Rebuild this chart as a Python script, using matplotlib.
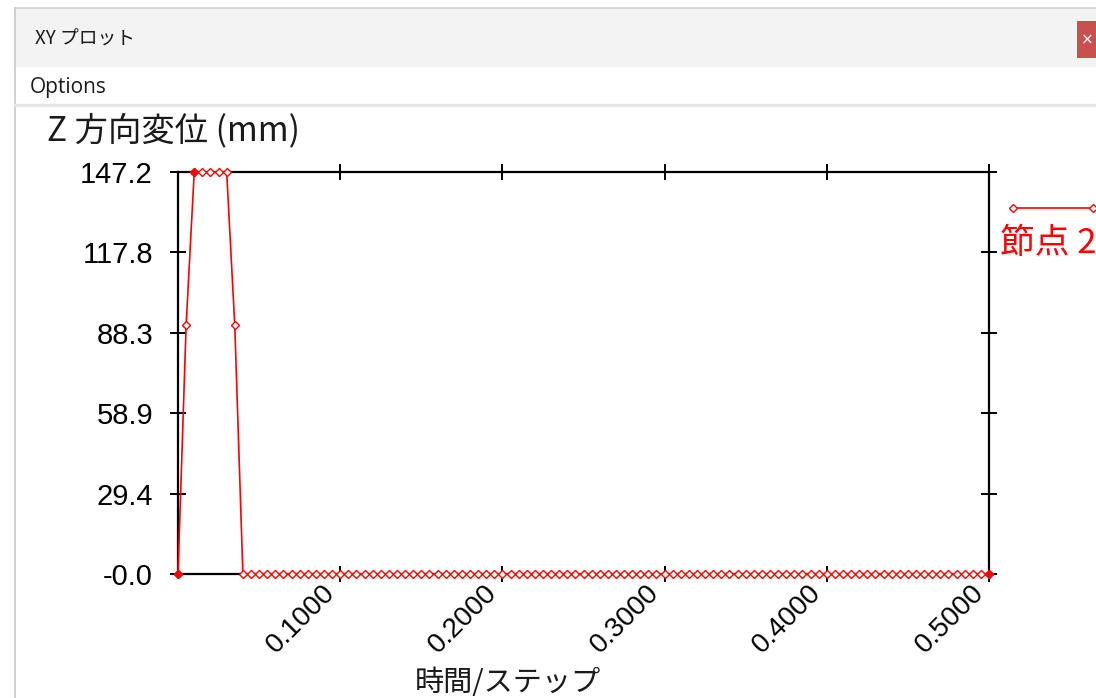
import numpy as np
import matplotlib
matplotlib.use("Agg")
import matplotlib.pyplot as plt
from matplotlib.patches import Rectangle
from matplotlib.lines import Line2D
from matplotlib.transforms import ScaledTranslation

# Data (time step 0.005, 101 samples).
time_step = 0.005
n_samples = 101
head_values = [0.0, 91.0, 147.2, 147.2, 147.2, 147.2, 147.2, 91.0, 0.0]
z_disp = head_values + [0.0] * (n_samples - len(head_values))
times = np.arange(n_samples) * time_step

y_ticks = [0.0, 29.4, 58.9, 88.3, 117.8, 147.2]
y_tick_labels = ["-0.0", "29.4", "58.9", "88.3", "117.8", "147.2"]
x_ticks = [0.1, 0.2, 0.3, 0.4, 0.5]
x_tick_labels = ["0.1000", "0.2000", "0.3000", "0.4000", "0.5000"]

window_title = "XY プロット"
menu_text = "Options"
y_label = "Z 方向変位 (mm)"
x_label = "時間/ステップ"
legend_label = "節点 2"

W, H = 1096, 698
cjk = ["Noto Sans CJK JP", "DejaVu Sans"]
sans = ["Liberation Sans", "DejaVu Sans"]
red = "#ff0000"


def fx(px):
    return px / W


def fy(py):
    return 1 - py / H


fig = plt.figure(figsize=(W / 100, H / 100), dpi=100, facecolor="white")

# Window chrome
fig.add_artist(Rectangle((fx(15), fy(67)), fx(W - 15), 59 / H, transform=fig.transFigure,
                         facecolor="#f3f3f3", edgecolor="none"))
fig.add_artist(Line2D([fx(15), 1], [fy(7.5), fy(7.5)], transform=fig.transFigure,
                      color="#d0d0d0", lw=1.2))
fig.add_artist(Line2D([fx(14.5), fx(14.5)], [fy(7.5), 0], transform=fig.transFigure,
                      color="#c8c8c8", lw=1.2))
fig.add_artist(Line2D([fx(15), 1], [fy(105), fy(105)], transform=fig.transFigure,
                      color="#e6e6e6", lw=2.5))
fig.add_artist(Rectangle((fx(1077), fy(58)), fx(W - 1077), 37 / H, transform=fig.transFigure,
                         facecolor="#c9504f", edgecolor="none"))
fig.text(fx(1087), fy(40), "×", color="white", fontsize=11, va="center", ha="center")
fig.text(fx(35), fy(39), window_title, family=cjk, fontsize=13.5, va="center", color="#1a1a1a")
fig.text(fx(30), fy(87), menu_text, family=["Open Sans", "DejaVu Sans"], fontsize=15,
         va="center", color="#1a1a1a")

# Plot area
ax = fig.add_axes([fx(178), fy(574), fx(989 - 178), (574 - 172) / H])
ax.plot(times, z_disp, color=red, lw=1.2, marker="D", markersize=4.5,
        markerfacecolor="white", markeredgecolor=red, markeredgewidth=1.0,
        clip_on=False, zorder=5)
filled = [0, 2, n_samples - 1]
ax.plot(times[filled], np.array(z_disp)[filled], ls="none", marker="D", markersize=4.5,
        color=red, clip_on=False, zorder=6)

ax.set_xlim(0, 0.5)
ax.set_ylim(0, 147.2)
ax.set_yticks(y_ticks)
ax.set_yticklabels(y_tick_labels, family=sans, fontsize=21)
ax.set_xticks(x_ticks)
ax.set_xticklabels(x_tick_labels, family=sans, fontsize=20,
                   rotation=45, ha="right", va="top")
shift = ScaledTranslation(9 / 100, -4 / 100, fig.dpi_scale_trans)
for lab in ax.get_xticklabels():
    lab.set_transform(lab.get_transform() + shift)
ax.tick_params(axis="both", direction="inout", length=12, width=1.4, color="black",
               top=True, right=True)
ax.tick_params(axis="x", pad=-2)
ax.tick_params(axis="y", pad=12)
for sp in ax.spines.values():
    sp.set_linewidth(1.6)
    sp.set_color("black")

fig.text(fx(47), fy(140), y_label, family=cjk, fontsize=24, va="baseline", ha="left",
         color="#1a1a1a")
fig.text(fx(508), fy(683), x_label, family=cjk, fontsize=21, va="center", ha="center",
         color="#1a1a1a")

# Legend (cut off by the window edge)
fig.add_artist(Line2D([fx(1013), fx(1093)], [fy(208), fy(208)], transform=fig.transFigure,
                      color=red, lw=1.2, marker="D", markersize=4.5,
                      markerfacecolor="white", markeredgecolor=red))
fig.text(fx(1000), fy(253), legend_label, family=cjk, fontsize=25, va="baseline",
         ha="left", color=red)

fig.savefig("out.png", dpi=100)
